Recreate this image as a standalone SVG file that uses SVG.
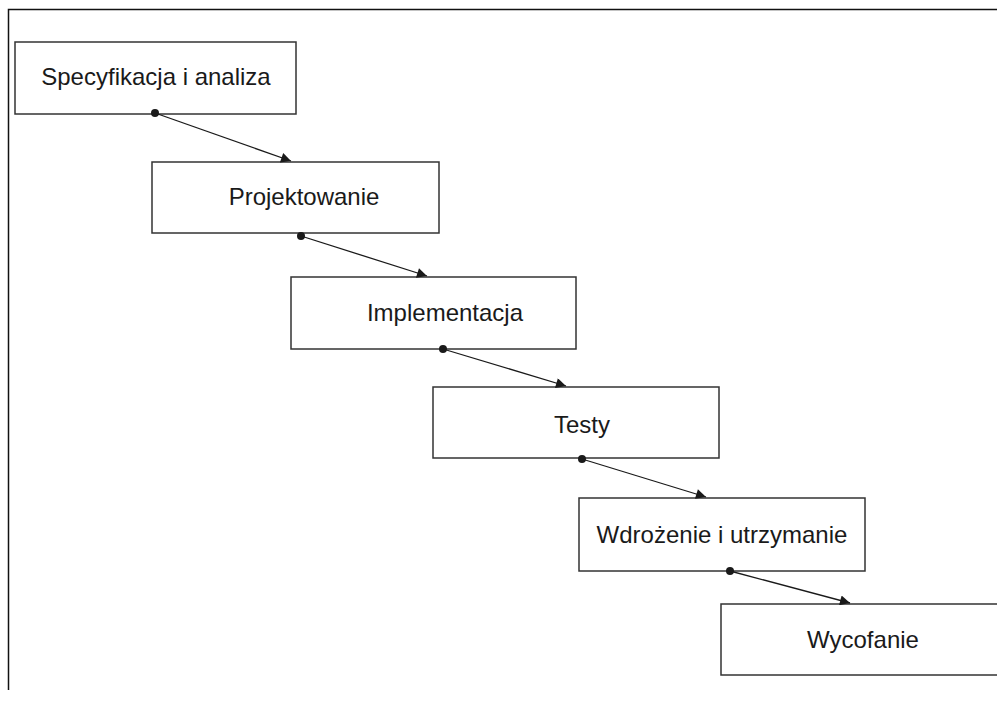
<svg xmlns="http://www.w3.org/2000/svg" width="997" height="704" viewBox="0 0 997 704">
<defs>
<style>
.box{fill:#fff;stroke:#333;stroke-width:1.5}
.lbl{font-family:"Liberation Sans",Arial,sans-serif;font-size:24px;fill:#1a1a1a;text-anchor:middle}
.conn{stroke:#1a1a1a;stroke-width:1.3;fill:none;marker-end:url(#arr)}
.dot{fill:#1a1a1a}
</style>
<marker id="arr" viewBox="0 0 10 10" refX="10" refY="5" markerWidth="15" markerHeight="10" markerUnits="userSpaceOnUse" orient="auto">
<path d="M0,0 L10,5 L0,10 Z" fill="#1a1a1a"/>
</marker>
</defs>
<rect width="997" height="704" fill="#fff"/>
<path d="M8.5,690 V9.5 H997" fill="none" stroke="#111" stroke-width="1.5"/>
<g id="n1"><rect class="box" x="15" y="42" width="281" height="72"/><text class="lbl" x="156" y="85">Specyfikacja i analiza</text></g>
<g id="n2"><rect class="box" x="152" y="162" width="287" height="71"/><text class="lbl" x="304" y="205">Projektowanie</text></g>
<g id="n3"><rect class="box" x="291" y="277" width="285" height="72"/><text class="lbl" x="445" y="321">Implementacja</text></g>
<g id="n4"><rect class="box" x="433" y="387" width="286" height="71"/><text class="lbl" x="582" y="433">Testy</text></g>
<g id="n5"><rect class="box" x="579" y="498" width="286" height="73"/><text class="lbl" x="722" y="543">Wdrożenie i utrzymanie</text></g>
<g id="n6"><rect class="box" x="721" y="604" width="290" height="71"/><text class="lbl" x="863" y="648">Wycofanie</text></g>
<g id="connectors">
<line class="conn" x1="155" y1="113" x2="291" y2="161"/><circle class="dot" cx="155" cy="113" r="4"/>
<line class="conn" x1="301" y1="236" x2="427" y2="276"/><circle class="dot" cx="301" cy="236" r="4"/>
<line class="conn" x1="443" y1="349" x2="566" y2="386"/><circle class="dot" cx="443" cy="349" r="4"/>
<line class="conn" x1="582" y1="459" x2="706" y2="497"/><circle class="dot" cx="582" cy="459" r="4"/>
<line class="conn" x1="730" y1="571" x2="850" y2="603"/><circle class="dot" cx="730" cy="571" r="4"/>
</g>
</svg>
